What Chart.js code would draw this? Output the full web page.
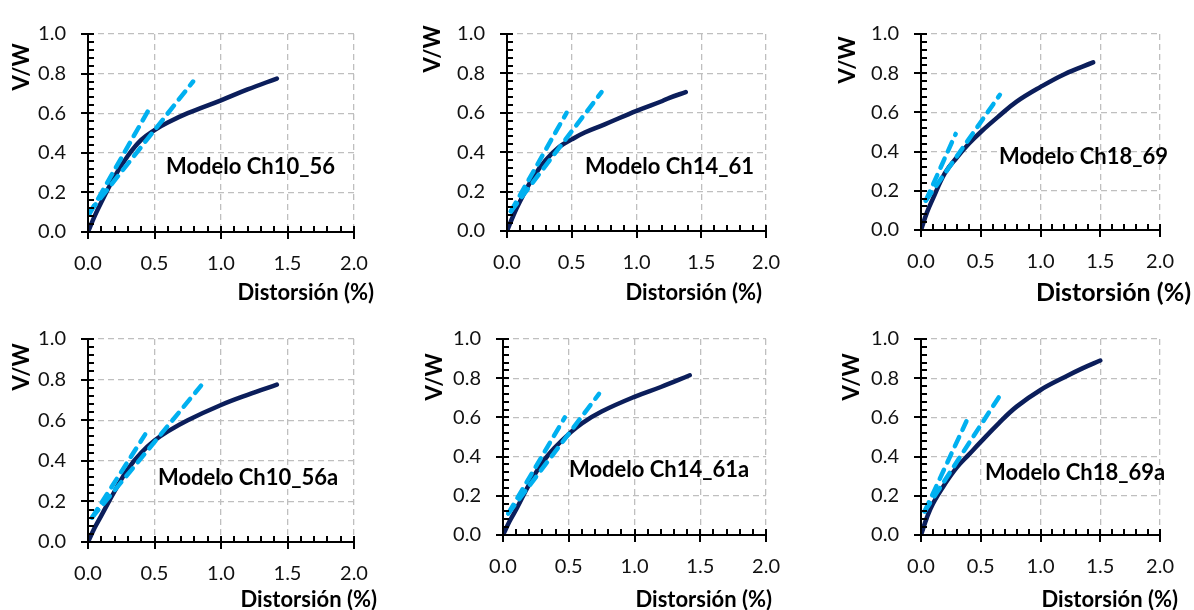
<!DOCTYPE html>
<html>
<head>
<meta charset="utf-8">
<script src="https://cdn.jsdelivr.net/npm/chart.js@4.4.0/dist/chart.umd.min.js"></script>
<style>
html, body { margin: 0; padding: 0; background: #fff; }
#wrap { position: relative; width: 1194px; height: 610px; overflow: hidden; background: #fff; }
#wrap canvas { position: absolute; }
</style>
</head>
<body>
<div id="wrap"></div>
<script>
// ===== Data =====

var xTicks = [0, 0.5, 1.0, 1.5, 2.0];
var yTicks = [0, 0.2, 0.4, 0.6, 0.8, 1.0];
var xTitle = 'Distorsión (%)';
var yTitle = 'V/W';
var modelNames = ['Modelo Ch10_56', 'Modelo Ch14_61', 'Modelo Ch18_69',
                  'Modelo Ch10_56a', 'Modelo Ch14_61a', 'Modelo Ch18_69a'];

// capacity curves [distortion %, V/W]
var curveCh10_56 = [[0,0],[0.05,0.08],[0.1,0.15],[0.2,0.28],[0.3,0.385],[0.4,0.465],[0.5,0.515],[0.6,0.553],[0.75,0.6],[1.0,0.665],[1.2,0.72],[1.42,0.775]];
var curveCh14_61 = [[0,0],[0.05,0.08],[0.1,0.15],[0.2,0.27],[0.3,0.36],[0.4,0.425],[0.5,0.465],[0.6,0.5],[0.75,0.54],[1.0,0.61],[1.2,0.66],[1.25,0.675],[1.38,0.705]];
var curveCh18_69 = [[0,0],[0.05,0.09],[0.1,0.16],[0.2,0.29],[0.3,0.37],[0.4,0.44],[0.5,0.5],[0.65,0.58],[0.8,0.655],[1.0,0.73],[1.2,0.795],[1.44,0.855]];
var curveCh10_56a = [[0,0],[0.05,0.07],[0.1,0.13],[0.2,0.25],[0.3,0.36],[0.4,0.44],[0.5,0.5],[0.6,0.545],[0.75,0.6],[1.0,0.675],[1.2,0.725],[1.42,0.775]];
var curveCh14_61a = [[0,0],[0.05,0.07],[0.1,0.13],[0.2,0.26],[0.3,0.37],[0.4,0.45],[0.5,0.515],[0.6,0.57],[0.75,0.63],[1.0,0.705],[1.2,0.755],[1.42,0.815]];
var curveCh18_69a = [[0,0],[0.05,0.09],[0.1,0.16],[0.2,0.26],[0.3,0.345],[0.4,0.41],[0.5,0.475],[0.65,0.57],[0.8,0.655],[1.0,0.74],[1.2,0.805],[1.35,0.85],[1.5,0.89]];

// dashed fit lines (steep / shallow)
var steepCh10_56 = [[0.01,0.09],[0.45,0.61]];
var flatCh10_56  = [[0.01,0.10],[0.79,0.76]];
var steepCh14_61 = [[0.03,0.10],[0.46,0.60]];
var flatCh14_61  = [[0.03,0.10],[0.73,0.705]];
var steepCh18_69 = [[0.04,0.15],[0.29,0.49]];
var flatCh18_69  = [[0.04,0.15],[0.66,0.69]];
var steepCh10_56a = [[0.03,0.12],[0.43,0.53]];
var flatCh10_56a  = [[0.03,0.12],[0.85,0.77]];
var steepCh14_61a = [[0.04,0.11],[0.47,0.60]];
var flatCh14_61a  = [[0.04,0.11],[0.73,0.72]];
var steepCh18_69a = [[0.03,0.12],[0.38,0.58]];
var flatCh18_69a  = [[0.03,0.12],[0.68,0.73]];

var curves = [curveCh10_56, curveCh14_61, curveCh18_69, curveCh10_56a, curveCh14_61a, curveCh18_69a];
var steepLines = [steepCh10_56, steepCh14_61, steepCh18_69, steepCh10_56a, steepCh14_61a, steepCh18_69a];
var flatLines = [flatCh10_56, flatCh14_61, flatCh18_69, flatCh10_56a, flatCh14_61a, flatCh18_69a];

// ===== Panel layout (pixels) =====
// canvas box, plot area [left, right, top, bottom], label anchors
var panels = [
    { left: 0,   top: 0,   w: 400, h: 305, area: [88, 354, 22, 232],  vw: [22, 67], dist: [374, 293, 22], model: [166, 167] },
    { left: 400, top: 0,   w: 400, h: 305, area: [107, 367, 22, 231], vw: [33, 49], dist: [362, 293, 22], model: [185, 167] },
    { left: 800, top: 0,   w: 394, h: 305, area: [121, 367, 23, 230], vw: [48, 60], dist: [391, 293, 25], model: [199, 157] },
    { left: 0,   top: 305, w: 400, h: 305, area: [88, 354, 24, 237],  vw: [22, 62], dist: [377, 295, 22], model: [158, 173] },
    { left: 400, top: 305, w: 400, h: 305, area: [103, 368, 24, 230], vw: [35, 72], dist: [372, 295, 22], model: [169, 165] },
    { left: 800, top: 305, w: 394, h: 305, area: [121, 377, 23, 230], vw: [52, 72], dist: [378, 295, 22], model: [185, 168] }
];

var NAVY = '#0B1E5B';
var LIGHT = '#00B0F0';
var FONT = 'Lato, "Open Sans", sans-serif';

function toPoints(arr) {
    return arr.map(function(p) { return { x: p[0], y: p[1] }; });
}

// ===== Axis lines, tick marks, texts =====
var decorPlugin = {
    id: 'decor',
    afterDatasetsDraw: function(chart) {
        var ctx = chart.ctx;
        var xs = chart.scales.x, ys = chart.scales.y;
        var a = chart.chartArea;
        var i, px, py;
        ctx.save();
        ctx.strokeStyle = '#000';
        ctx.lineWidth = 2;
        ctx.setLineDash([]);
        ctx.beginPath();
        // axis lines
        ctx.moveTo(a.left, a.top);
        ctx.lineTo(a.left, a.bottom);
        ctx.lineTo(a.right, a.bottom);
        // x: minor every 0.1 (inside), major every 0.5 (crossing)
        for (i = 0; i <= 20; i++) {
            px = Math.round(xs.getPixelForValue(i * 0.1));
            ctx.moveTo(px, a.bottom + (i % 5 === 0 ? 7 : 0));
            ctx.lineTo(px, a.bottom - 6);
        }
        // y: minor every 0.04, major every 0.2
        for (i = 0; i <= 25; i++) {
            py = Math.round(ys.getPixelForValue(i * 0.04));
            ctx.moveTo(a.left - (i % 5 === 0 ? 7 : 0), py);
            ctx.lineTo(a.left + 6, py);
        }
        ctx.stroke();
        ctx.restore();
    },
    afterDraw: function(chart, args, opts) {
        var ctx = chart.ctx;
        ctx.save();
        ctx.fillStyle = '#000';
        ctx.textBaseline = 'middle';

        ctx.font = 'bold ' + opts.dist[2] + 'px ' + FONT;
        ctx.textAlign = 'right';
        ctx.fillText(xTitle, opts.dist[0], opts.dist[1]);

        ctx.font = 'bold 22px ' + FONT;
        ctx.textAlign = 'left';
        ctx.fillText(opts.name, opts.model[0], opts.model[1]);

        ctx.translate(opts.vw[0], opts.vw[1]);
        ctx.rotate(-Math.PI / 2);
        ctx.textAlign = 'center';
        ctx.font = 'bold 22px ' + FONT;
        ctx.fillText(yTitle, 0, 0);
        ctx.restore();
    }
};

var wrap = document.getElementById('wrap');

panels.forEach(function(p, k) {
    var cv = document.createElement('canvas');
    cv.width = p.w;
    cv.height = p.h;
    cv.style.left = p.left + 'px';
    cv.style.top = p.top + 'px';
    cv.style.width = p.w + 'px';
    cv.style.height = p.h + 'px';
    wrap.appendChild(cv);

    var L = p.area[0], R = p.area[1], T = p.area[2], B = p.area[3];

    var dashed = {
        showLine: true,
        borderColor: LIGHT,
        borderWidth: 4.5,
        borderDash: [10, 8],
        borderCapStyle: 'round',
        pointRadius: 0,
        order: 0
    };

    new Chart(cv, {
        type: 'scatter',
        data: {
            datasets: [
                Object.assign({ data: toPoints(steepLines[k]) }, dashed),
                Object.assign({ data: toPoints(flatLines[k]) }, dashed),
                {
                    data: toPoints(curves[k]),
                    showLine: true,
                    borderColor: NAVY,
                    borderWidth: 4.5,
                    borderCapStyle: 'round',
                    borderJoinStyle: 'round',
                    tension: 0.4,
                    pointRadius: 0,
                    order: 1
                }
            ]
        },
        options: {
            responsive: false,
            animation: false,
            devicePixelRatio: 1,
            layout: { padding: { left: 0, top: T, right: p.w - R, bottom: 0 } },
            plugins: {
                legend: { display: false },
                tooltip: { enabled: false },
                decor: { name: modelNames[k], vw: p.vw, dist: p.dist, model: p.model }
            },
            scales: {
                x: {
                    type: 'linear',
                    min: 0, max: 2,
                    afterFit: function(s) { s.height = p.h - B; },
                    afterBuildTicks: function(s) { s.ticks = xTicks.map(function(v) { return { value: v }; }); },
                    ticks: {
                        color: '#111',
                        font: { family: FONT, size: 20 },
                        padding: 20,
                        maxRotation: 0,
                        callback: function(v) { return v.toFixed(1); }
                    },
                    grid: { color: '#BFBFBF', lineWidth: 1.3, drawTicks: false },
                    border: { display: false, dash: [6, 4] }
                },
                y: {
                    type: 'linear',
                    min: 0, max: 1,
                    afterFit: function(s) { s.width = L; },
                    afterBuildTicks: function(s) { s.ticks = yTicks.map(function(v) { return { value: v }; }); },
                    ticks: {
                        color: '#111',
                        font: { family: FONT, size: 20 },
                        padding: 22,
                        callback: function(v) { return v.toFixed(1); }
                    },
                    grid: { color: '#BFBFBF', lineWidth: 1.3, drawTicks: false },
                    border: { display: false, dash: [6, 4] }
                }
            }
        },
        plugins: [decorPlugin]
    });
});
</script>
</body>
</html>
